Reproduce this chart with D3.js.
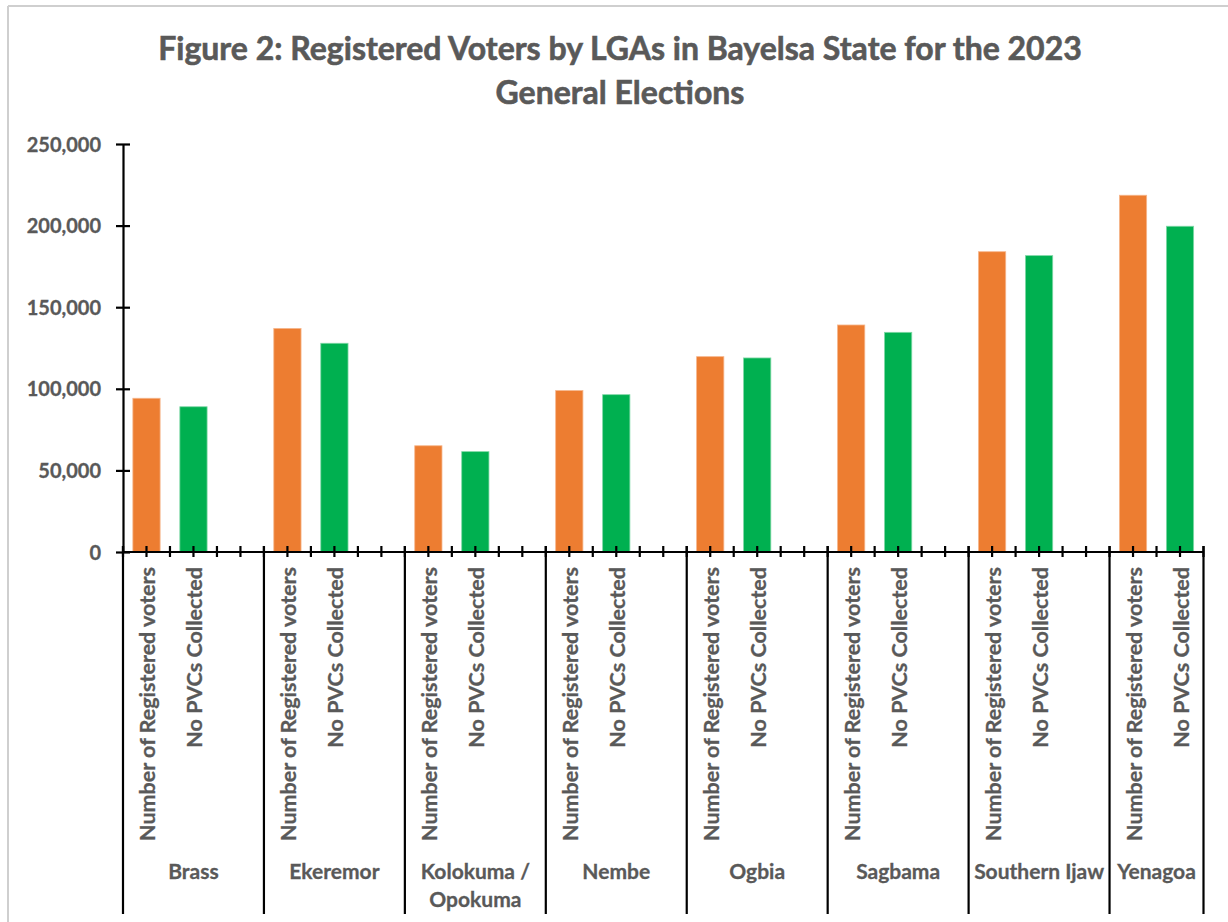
<!DOCTYPE html>
<html>
<head>
<meta charset="utf-8">
<script src="https://cdn.jsdelivr.net/npm/d3@7"></script>
<style>
  html, body { margin: 0; padding: 0; background: #fff; }
  svg { display: block; }
  text { font-family: Lato, "Open Sans", sans-serif; font-weight: 700; fill: #595959; }
</style>
</head>
<body>
<svg id="chart" width="1228" height="922"></svg>
<script>
// Local government areas of Bayelsa State
const lgas = ["Brass", "Ekeremor", "Kolokuma / Opokuma", "Nembe", "Ogbia", "Sagbama", "Southern Ijaw", "Yenagoa"];
// Sub-category labels under each LGA
const measures = ["Number of Registered voters", "No PVCs Collected"];
// Registered voters per LGA
const registered = [94200, 137000, 65100, 98900, 119700, 139100, 184000, 218600];
// PVCs collected per LGA
const collected = [89000, 127900, 61500, 96400, 118900, 134600, 181600, 199600];
// Value axis ticks
const yTicks = [0, 50000, 100000, 150000, 200000, 250000];

const svg = d3.select("#chart");
const W = 1228, H = 922;
const plot = { left: 123, right: 1203.5, top: 144, bottom: 552 };
const axisColor = "#000";
const textColor = "#595959";

// Frame edges
svg.append("line").attr("x1", 8).attr("x2", W).attr("y1", 6).attr("y2", 6)
  .attr("stroke", "#cfcfcf").attr("stroke-width", 2);
svg.append("line").attr("x1", 8).attr("x2", 8).attr("y1", 6).attr("y2", H)
  .attr("stroke", "#cfcfcf").attr("stroke-width", 2);

// Title
const title = svg.append("text").attr("text-anchor", "middle").style("font-size", "32px")
  .attr("stroke", textColor).attr("stroke-width", 0.6);
title.append("tspan").attr("x", 620).attr("y", 60).text("Figure 2: Registered Voters by LGAs in Bayelsa State for the 2023");
title.append("tspan").attr("x", 620).attr("y", 104).text("General Elections");

// Category slots: each LGA has its two measures plus a spacer slot (the last LGA has none)
const slots = [];
lgas.forEach((g, gi) => {
  measures.forEach((m, mi) => slots.push({ key: g + "|" + m, group: gi, measure: mi }));
  if (gi < lgas.length - 1) slots.push({ key: g + "|", group: gi, measure: -1 });
});

const x = d3.scaleBand()
  .domain(slots.map(d => d.key))
  .range([plot.left, plot.right])
  .paddingInner(0.42)
  .paddingOuter(0.21);

const y = d3.scaleLinear().domain([0, 250000]).range([plot.bottom, plot.top]);

// Bars
const bars = [];
lgas.forEach((g, gi) => {
  bars.push({ key: g + "|" + measures[0], value: registered[gi], color: "#ED7D31", edge: "#F6B68C" });
  bars.push({ key: g + "|" + measures[1], value: collected[gi], color: "#00B050", edge: "#7FD8A6" });
});
svg.append("g").selectAll("rect").data(bars).join("rect")
  .attr("x", d => x(d.key))
  .attr("width", x.bandwidth())
  .attr("y", d => y(d.value))
  .attr("height", d => y(0) - y(d.value))
  .attr("fill", d => d.color)
  .attr("stroke", d => d.edge)
  .attr("stroke-width", 0.8);

// Y axis
const yAxis = svg.append("g").attr("transform", `translate(${plot.left},0)`)
  .call(d3.axisLeft(y).tickValues(yTicks).tickFormat(d3.format(",")).tickSizeInner(7).tickSizeOuter(0).tickPadding(15));
yAxis.select(".domain").attr("stroke", axisColor).attr("stroke-width", 2.2);
yAxis.selectAll(".tick line").attr("stroke", axisColor).attr("stroke-width", 2.2).attr("x2", 7).attr("x1", -7);
yAxis.selectAll(".tick text").style("font-size", "20px").attr("fill", textColor).attr("dy", "0.35em")
  .attr("stroke", textColor).attr("stroke-width", 0.3);

// X axis baseline
svg.append("line").attr("x1", plot.left).attr("x2", plot.right).attr("y1", y(0)).attr("y2", y(0))
  .attr("stroke", axisColor).attr("stroke-width", 2.2);

// Small ticks at every half slot
const step = x.step();
const tickXs = d3.range(0, slots.length * 2 + 1).map(i => plot.left + i * step / 2);
svg.append("g").selectAll("line").data(tickXs).join("line")
  .attr("x1", d => d).attr("x2", d => d)
  .attr("y1", y(0) - 6).attr("y2", y(0) + 5)
  .attr("stroke", axisColor).attr("stroke-width", 2.2);

// Group separators
const groupBounds = [];
lgas.forEach((g, gi) => {
  const keys = slots.filter(s => s.group === gi);
  const x0 = x(keys[0].key) - x.step() * x.paddingInner() / 2;
  const x1 = x0 + keys.length * step;
  groupBounds.push({ name: g, x0, x1 });
});
const sepXs = [groupBounds[0].x0].concat(groupBounds.map(b => b.x1));
svg.append("g").selectAll("line").data(sepXs).join("line")
  .attr("x1", d => d).attr("x2", d => d)
  .attr("y1", y(0) - 6).attr("y2", 914)
  .attr("stroke", axisColor).attr("stroke-width", 2.2);

// Rotated measure labels
svg.append("g").selectAll("text").data(slots.filter(s => s.measure >= 0)).join("text")
  .attr("transform", d => `translate(${x(d.key) + x.bandwidth() / 2 + 1},567) rotate(-90)`)
  .attr("text-anchor", "end")
  .attr("dy", "0.36em")
  .style("font-size", "21.5px")
  .attr("stroke", textColor).attr("stroke-width", 0.3)
  .text(d => measures[d.measure]);

// LGA labels
const gl = svg.append("g").selectAll("text").data(groupBounds).join("text")
  .attr("text-anchor", "middle")
  .style("font-size", "21px")
  .attr("stroke", textColor).attr("stroke-width", 0.3);
gl.each(function(d) {
  const t = d3.select(this);
  const cx = (d.x0 + d.x1) / 2;
  if (d.name.includes(" / ")) {
    const parts = d.name.split(" / ");
    t.append("tspan").attr("x", cx).attr("y", 879).text(parts[0] + " /");
    t.append("tspan").attr("x", cx).attr("y", 907).text(parts[1]);
  } else {
    t.append("tspan").attr("x", cx).attr("y", 879).text(d.name);
  }
});
</script>
</body>
</html>
